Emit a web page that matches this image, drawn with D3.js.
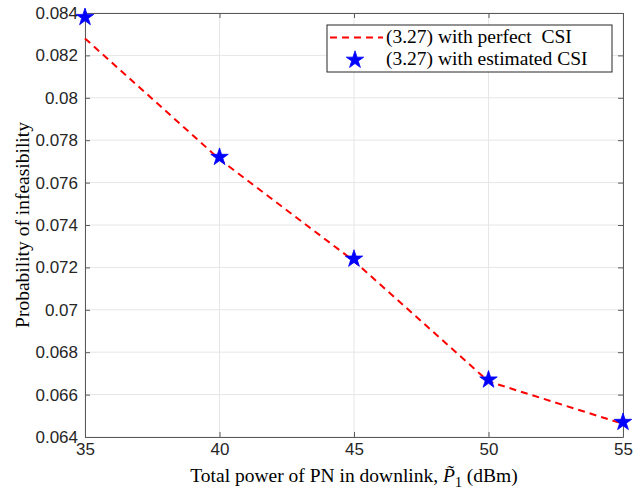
<!DOCTYPE html>
<meta charset="utf-8">
<head>
<style>
  body { margin: 0; background: #fff; }
  .tick text { font-family: "Liberation Sans", Arial, sans-serif; font-size: 17px; fill: #262626; }
  .lbl { font-family: "Liberation Serif", "Times New Roman", serif; font-size: 19.5px; fill: #000; }
</style>
</head>
<script src="https://d3js.org/d3.v7.min.js"></script>
<div id="my_dataviz"></div>
<script>

// data
var power = [35, 40, 45, 50, 55];
var perfectCSI = [0.0828, 0.0771, 0.0723, 0.06662, 0.06462];
var estimatedCSI = [0.0838, 0.0772, 0.0724, 0.0667, 0.0647];
var xTicks = [35, 40, 45, 50, 55];
var yTicks = [0.064, 0.066, 0.068, 0.07, 0.072, 0.074, 0.076, 0.078, 0.08, 0.082, 0.084];

var margin = {top: 13, right: 11, bottom: 63, left: 85},
    width = 634 - margin.left - margin.right,
    height = 500 - margin.top - margin.bottom;

var svg = d3.select("#my_dataviz")
  .append("svg")
    .attr("width", 634)
    .attr("height", 500)
  .append("g")
    .attr("transform", "translate(" + margin.left + "," + margin.top + ")");

var x = d3.scaleLinear().domain([35, 55]).range([0, width]);
var y = d3.scaleLinear().domain([0.064, 0.084]).range([height, 0]);

// grid
svg.append("g")
  .selectAll("line.gx")
  .data(xTicks)
  .enter().append("line")
    .attr("x1", function(d) { return x(d); })
    .attr("x2", function(d) { return x(d); })
    .attr("y1", 0).attr("y2", height)
    .attr("stroke", "#e6e6e6").attr("stroke-width", 1);
svg.append("g")
  .selectAll("line.gy")
  .data(yTicks)
  .enter().append("line")
    .attr("y1", function(d) { return y(d); })
    .attr("y2", function(d) { return y(d); })
    .attr("x1", 0).attr("x2", width)
    .attr("stroke", "#e6e6e6").attr("stroke-width", 1);

// axes (ticks pointing inward, MATLAB style)
var fmtY = function(d) { return String(+d.toFixed(3)); };
var xAxis = svg.append("g")
  .attr("transform", "translate(0," + height + ")")
  .call(d3.axisBottom(x).tickValues(xTicks).tickSizeInner(-5).tickSizeOuter(0).tickPadding(6));
var yAxis = svg.append("g")
  .call(d3.axisLeft(y).tickValues(yTicks).tickFormat(fmtY).tickSizeInner(-5).tickSizeOuter(0).tickPadding(7));
var xTop = svg.append("g")
  .call(d3.axisTop(x).tickValues(xTicks).tickSizeInner(-5).tickSizeOuter(0).tickFormat(""));
var yRight = svg.append("g")
  .attr("transform", "translate(" + width + ",0)")
  .call(d3.axisRight(y).tickValues(yTicks).tickSizeInner(-5).tickSizeOuter(0).tickFormat(""));

[xAxis, yAxis, xTop, yRight].forEach(function(a) {
  a.selectAll("path, line").attr("stroke", "#5a5a5a").attr("stroke-width", 1);
});

// red dashed line
var line = d3.line()
  .x(function(d, i) { return x(power[i]); })
  .y(function(d) { return y(d); });
svg.append("path")
  .datum(perfectCSI)
  .attr("d", line)
  .attr("fill", "none")
  .attr("stroke", "#ff0000")
  .attr("stroke-width", 2)
  .attr("stroke-dasharray", "7,5");

// blue stars
var star = d3.symbol().type(d3.symbolStar).size(95);
svg.selectAll("path.star")
  .data(estimatedCSI)
  .enter().append("path")
    .attr("class", "star")
    .attr("d", star)
    .attr("transform", function(d, i) { return "translate(" + x(power[i]) + "," + y(d) + ")"; })
    .attr("fill", "#0000ff")
    .attr("stroke", "#0000ff")
    .attr("stroke-width", 0.8);

// legend
var lg = svg.append("g").attr("transform", "translate(" + (327 - margin.left) + "," + (25 - margin.top) + ")");
lg.append("rect")
  .attr("width", 285).attr("height", 47)
  .attr("fill", "#fff").attr("stroke", "#262626").attr("stroke-width", 1);
lg.append("line")
  .attr("x1", 3).attr("x2", 56).attr("y1", 12.5).attr("y2", 12.5)
  .attr("stroke", "#ff0000").attr("stroke-width", 2).attr("stroke-dasharray", "7,5");
lg.append("path")
  .attr("d", star)
  .attr("transform", "translate(28,35)")
  .attr("fill", "#0000ff").attr("stroke", "#0000ff").attr("stroke-width", 0.8);
lg.append("text").attr("class", "lbl").attr("x", 59).attr("y", 18).text("(3.27) with perfect  CSI")
  .style("white-space", "pre");
lg.append("text").attr("class", "lbl").attr("x", 59).attr("y", 40).text("(3.27) with estimated CSI");

// axis labels
var xl = svg.append("text").attr("class", "lbl")
  .attr("x", width / 2).attr("y", height + 45)
  .attr("text-anchor", "middle");
xl.append("tspan").text("Total power of PN in downlink, ");
xl.append("tspan").style("font-style", "italic").text("P\u0303");
xl.append("tspan").attr("dy", 5).attr("font-size", "14px").text("1");
xl.append("tspan").attr("dy", -5).text(" (dBm)");

svg.append("text").attr("class", "lbl")
  .attr("transform", "translate(" + (-56) + "," + (height / 2) + ") rotate(-90)")
  .attr("text-anchor", "middle")
  .text("Probability of infeasibility");

</script>
